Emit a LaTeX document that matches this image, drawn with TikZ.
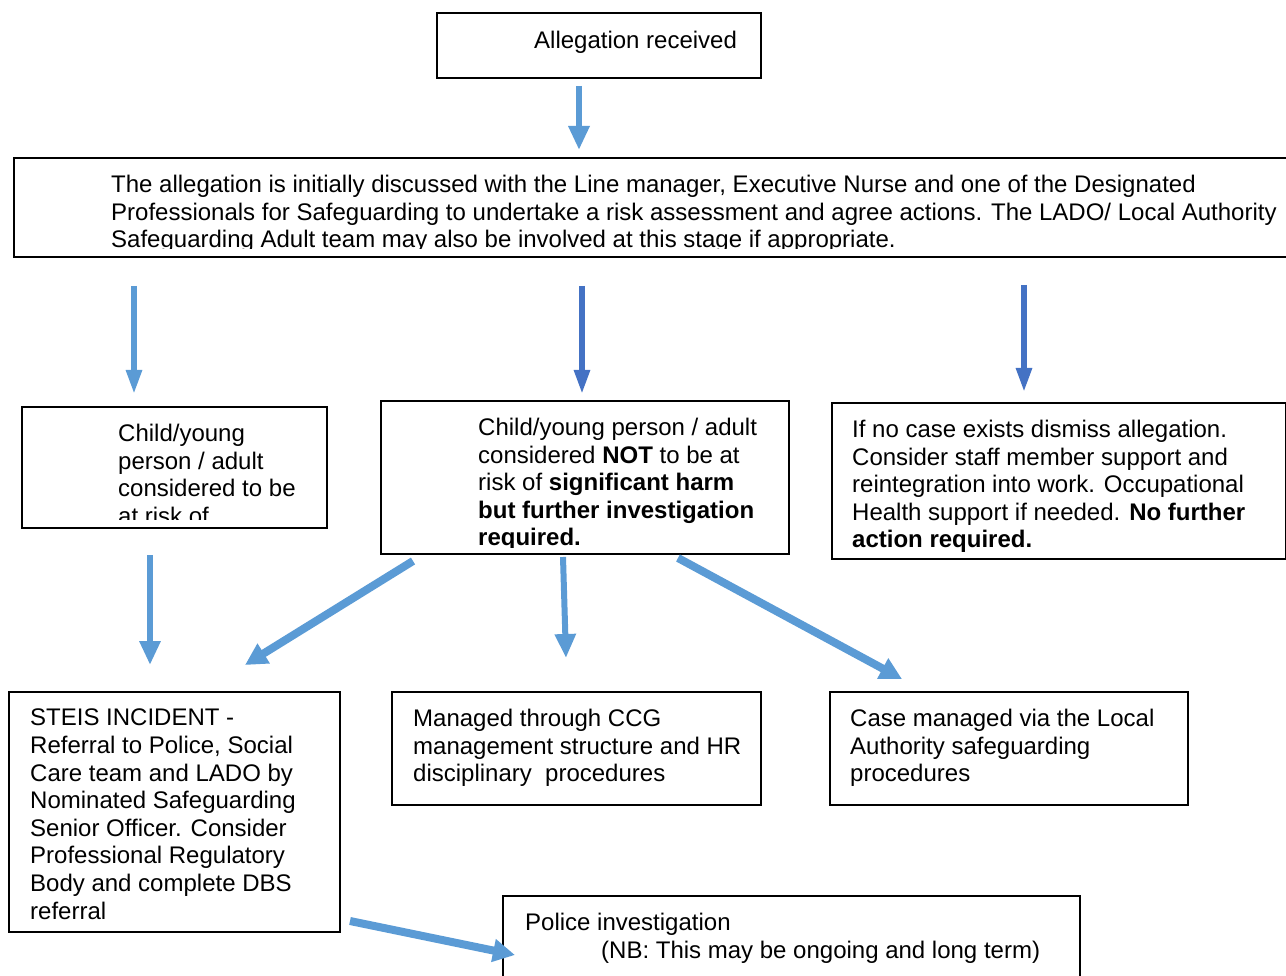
\documentclass[tikz,border=0pt]{standalone}
\usepackage{fontspec}
\setmainfont{Liberation Sans}
\usetikzlibrary{arrows.meta}
\definecolor{lb}{HTML}{5B9BD5}
\definecolor{db}{HTML}{4472C4}
\newcommand{\fs}{\fontsize{24}{27.6}\selectfont}
\begin{document}
\begin{tikzpicture}[x=1pt,y=-1pt,
  box/.style={draw, line width=1.3pt, inner sep=0pt, outer sep=0pt, anchor=north west},
  txt/.style={anchor=north west, align=left, inner sep=0pt, font=\fs},
  slim/.style={line width=5.5pt, -{Triangle[length=24pt,width=15pt]}},
  mid/.style={line width=6pt, -{Triangle[length=24pt,width=20pt]}},
  fat/.style={line width=8pt, -{Triangle[length=22pt,width=22pt]}}]
\useasboundingbox (0,0) rectangle (1286,976);
\clip (0,0) rectangle (1286,976);
% boxes
\node[box, minimum width=324pt, minimum height=65pt] (A) at (437,13) {};
\node[box, minimum width=1290pt, minimum height=99pt] (B) at (14,158) {};
\node[box, minimum width=305pt, minimum height=121pt] (C) at (22,407) {};
\node[box, minimum width=408pt, minimum height=153pt] (D) at (381,401) {};
\node[box, minimum width=454pt, minimum height=156pt] (E) at (832,403) {};
\node[box, minimum width=331pt, minimum height=240pt] (F) at (9,692) {};
\node[box, minimum width=369pt, minimum height=113pt] (G) at (392,692) {};
\node[box, minimum width=358pt, minimum height=113pt] (H) at (830,692) {};
\node[box, minimum width=577pt, minimum height=120pt] (I) at (503,896) {};
% texts
\node[txt] (tA) at (534,31) {Allegation received};
\begin{scope}
\clip (15,159) rectangle (1286,249);
\node[txt] (tB) at (111,175) {The allegation is initially discussed with the Line manager, Executive Nurse and one of the Designated\\
Professionals for Safeguarding to undertake a risk assessment and agree actions. The LADO/ Local Authority\\
Safeguarding Adult team may also be involved at this stage if appropriate.};
\end{scope}
\begin{scope}
\clip (23,408) rectangle (326,519);
\node[txt] (tC) at (118,424) {Child/young\\ person / adult\\ considered to be\\ at risk of};
\end{scope}
\begin{scope}
\clip (382,402) rectangle (788,547);
\node[txt] (tD) at (478,418) {Child/young person / adult\\ considered \textbf{NOT} to be at\\ risk of \textbf{significant harm}\\ \textbf{but further investigation}\\ \textbf{required.}};
\end{scope}
\node[txt] (tE) at (852,420) {If no case exists dismiss allegation.\\ Consider staff member support and\\ reintegration into work. Occupational\\ Health support if needed. \textbf{No further}\\ \textbf{action required.}};
\node[txt] (tF) at (30,709) {STEIS INCIDENT -\\ Referral to Police, Social\\ Care team and LADO by\\ Nominated Safeguarding\\ Senior Officer. Consider\\ Professional Regulatory\\ Body and complete DBS\\ referral};
\node[txt] (tG) at (413,709) {Managed through CCG\\ management structure and HR\\ disciplinary\ \ procedures};
\node[txt] (tH) at (850,709) {Case managed via the Local\\ Authority safeguarding\\ procedures};
\node[txt] (tI) at (525,913) {Police investigation\\ \hspace*{76pt}(NB: This may be ongoing and long term)};
% arrow end points
\coordinate (a1s) at (579,86);  \coordinate (a1e) at (579,150);
\coordinate (b1s) at (134,286); \coordinate (b1e) at (134,394);
\coordinate (b2s) at (582,286); \coordinate (b2e) at (582,394);
\coordinate (b3s) at (1024,285); \coordinate (b3e) at (1024,392);
\coordinate (c1s) at (150,555); \coordinate (c1e) at (150,665);
\coordinate (d1s) at (413,561); \coordinate (d1e) at (245,665);
\coordinate (d2s) at (563,557); \coordinate (d2e) at (566,658);
\coordinate (d3s) at (678,558); \coordinate (d3e) at (902,679);
\coordinate (f1s) at (350,921); \coordinate (f1e) at (515,955);
% arrows
\draw[mid, lb] (a1s) -- (a1e);
\draw[slim, lb] (b1s) -- (b1e);
\draw[slim, db] (b2s) -- (b2e);
\draw[slim, db] (b3s) -- (b3e);
\draw[mid, lb] (c1s) -- (c1e);
\draw[fat, lb] (d1s) -- (d1e);
\draw[mid, lb] (d2s) -- (d2e);
\draw[fat, lb] (d3s) -- (d3e);
\draw[fat, lb] (f1s) -- (f1e);
\end{tikzpicture}
\end{document}
